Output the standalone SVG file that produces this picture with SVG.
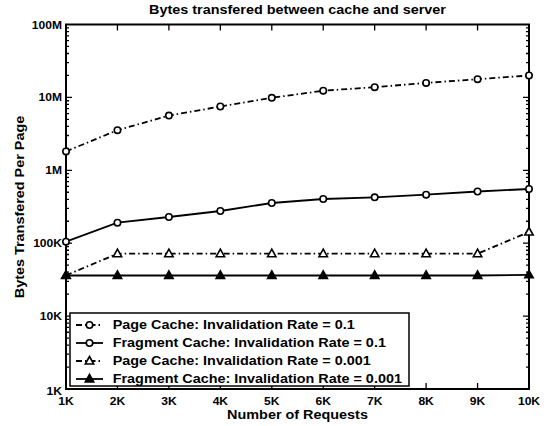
<svg xmlns="http://www.w3.org/2000/svg" xmlns:xlink="http://www.w3.org/1999/xlink" width="548" height="426" viewBox="0 0 548 426">
<style>
text{font-family:"Liberation Sans",Arial,Helvetica,sans-serif;font-weight:bold;fill:#000}
.lab{font-size:12px}
.tk{font-size:10.5px}
.ax{fill:none;stroke:#000;stroke-width:2}
.tick{fill:none;stroke:#000;stroke-width:1.3}
.solid{fill:none;stroke:#000;stroke-width:1.8}
.dd{fill:none;stroke:#000;stroke-width:1.8;stroke-dasharray:6 3 1.5 3}
.mo{fill:#fff;stroke:#000;stroke-width:1.6}
.mf{fill:#000;stroke:#000;stroke-width:1.6}
</style>
<defs>
<circle id="circ" r="3.2"/>
<path id="tri" d="M0,-4.5 L4.2,3 L-4.2,3 Z"/>
</defs>
<rect width="548" height="426" fill="#fff"/>
<g id="title"><text class="lab" text-anchor="middle" transform="translate(297.5,14) scale(1.2,1)">Bytes transfered between cache and server</text></g>
<g id="axes">
<rect class="ax" x="66" y="24.5" width="463" height="364.5"/>
<path class="tick" d="M66 97.4h6M66 170.3h6M66 243.2h6M66 316.1h6M529 97.4h-6M529 170.3h-6M529 243.2h-6M529 316.1h-6"/>
<path class="tick" d="M117.44 389v-6M168.89 389v-6M220.33 389v-6M271.78 389v-6M323.22 389v-6M374.67 389v-6M426.11 389v-6M477.56 389v-6M117.44 24.5v6M168.89 24.5v6M220.33 24.5v6M271.78 24.5v6M323.22 24.5v6M374.67 24.5v6M426.11 24.5v6M477.56 24.5v6"/>
<path class="tick" d="M66 367.06h3M66 354.22h3M66 345.11h3M66 338.04h3M66 332.27h3M66 327.39h3M66 323.17h3M66 319.44h3M66 294.16h3M66 281.32h3M66 272.21h3M66 265.14h3M66 259.37h3M66 254.49h3M66 250.27h3M66 246.54h3M66 221.26h3M66 208.42h3M66 199.31h3M66 192.24h3M66 186.47h3M66 181.59h3M66 177.37h3M66 173.64h3M66 148.36h3M66 135.52h3M66 126.41h3M66 119.34h3M66 113.57h3M66 108.69h3M66 104.47h3M66 100.74h3M66 75.46h3M66 62.62h3M66 53.51h3M66 46.44h3M66 40.67h3M66 35.79h3M66 31.57h3M66 27.84h3"/>
<path class="tick" d="M529 367.06h-3M529 354.22h-3M529 345.11h-3M529 338.04h-3M529 332.27h-3M529 327.39h-3M529 323.17h-3M529 319.44h-3M529 294.16h-3M529 281.32h-3M529 272.21h-3M529 265.14h-3M529 259.37h-3M529 254.49h-3M529 250.27h-3M529 246.54h-3M529 221.26h-3M529 208.42h-3M529 199.31h-3M529 192.24h-3M529 186.47h-3M529 181.59h-3M529 177.37h-3M529 173.64h-3M529 148.36h-3M529 135.52h-3M529 126.41h-3M529 119.34h-3M529 113.57h-3M529 108.69h-3M529 104.47h-3M529 100.74h-3M529 75.46h-3M529 62.62h-3M529 53.51h-3M529 46.44h-3M529 40.67h-3M529 35.79h-3M529 31.57h-3M529 27.84h-3"/>
</g>
<g id="ytick-labels" class="tk" text-anchor="end">
<text transform="translate(62,28.5) scale(1.15,1)">100M</text>
<text transform="translate(62,101.4) scale(1.15,1)">10M</text>
<text transform="translate(62,174.3) scale(1.15,1)">1M</text>
<text transform="translate(62,247.2) scale(1.15,1)">100K</text>
<text transform="translate(62,320.1) scale(1.15,1)">10K</text>
<text transform="translate(62,395) scale(1.15,1)">1K</text>
</g>
<g id="xtick-labels" class="tk" text-anchor="middle">
<text transform="translate(66,405) scale(1.15,1)">1K</text>
<text transform="translate(117.44,405) scale(1.15,1)">2K</text>
<text transform="translate(168.89,405) scale(1.15,1)">3K</text>
<text transform="translate(220.33,405) scale(1.15,1)">4K</text>
<text transform="translate(271.78,405) scale(1.15,1)">5K</text>
<text transform="translate(323.22,405) scale(1.15,1)">6K</text>
<text transform="translate(374.67,405) scale(1.15,1)">7K</text>
<text transform="translate(426.11,405) scale(1.15,1)">8K</text>
<text transform="translate(477.56,405) scale(1.15,1)">9K</text>
<text transform="translate(529,405) scale(1.15,1)">10K</text>
</g>
<g id="axis-titles" class="lab" text-anchor="middle">
<text transform="translate(297.5,419) scale(1.2,1)">Number of Requests</text>
<text transform="translate(24,207) rotate(-90) scale(1.2,1)">Bytes Transfered Per Page</text>
</g>
<g id="series-page-0.1">
<polyline class="dd" points="66,151.4 117.44,130.2 168.89,115.6 220.33,106.5 271.78,97.8 323.22,90.7 374.67,87.2 426.11,82.9 477.56,79.2 529,75.5"/>
<g class="mo">
<use xlink:href="#circ" x="66" y="151.4"/><use xlink:href="#circ" x="117.44" y="130.2"/><use xlink:href="#circ" x="168.89" y="115.6"/><use xlink:href="#circ" x="220.33" y="106.5"/><use xlink:href="#circ" x="271.78" y="97.8"/><use xlink:href="#circ" x="323.22" y="90.7"/><use xlink:href="#circ" x="374.67" y="87.2"/><use xlink:href="#circ" x="426.11" y="82.9"/><use xlink:href="#circ" x="477.56" y="79.2"/><use xlink:href="#circ" x="529" y="75.5"/>
</g>
</g>
<g id="series-fragment-0.1">
<polyline class="solid" points="66,241.7 117.44,222.7 168.89,217 220.33,211 271.78,203 323.22,199 374.67,197.3 426.11,194.7 477.56,191.5 529,189"/>
<g class="mo">
<use xlink:href="#circ" x="66" y="241.7"/><use xlink:href="#circ" x="117.44" y="222.7"/><use xlink:href="#circ" x="168.89" y="217"/><use xlink:href="#circ" x="220.33" y="211"/><use xlink:href="#circ" x="271.78" y="203"/><use xlink:href="#circ" x="323.22" y="199"/><use xlink:href="#circ" x="374.67" y="197.3"/><use xlink:href="#circ" x="426.11" y="194.7"/><use xlink:href="#circ" x="477.56" y="191.5"/><use xlink:href="#circ" x="529" y="189"/>
</g>
</g>
<g id="series-page-0.001">
<polyline class="dd" points="66,275.3 117.44,253.7 168.89,253.7 220.33,253.7 271.78,253.7 323.22,253.7 374.67,253.7 426.11,253.7 477.56,253.7 529,232"/>
<g class="mo">
<use xlink:href="#tri" x="66" y="275.3"/><use xlink:href="#tri" x="117.44" y="253.7"/><use xlink:href="#tri" x="168.89" y="253.7"/><use xlink:href="#tri" x="220.33" y="253.7"/><use xlink:href="#tri" x="271.78" y="253.7"/><use xlink:href="#tri" x="323.22" y="253.7"/><use xlink:href="#tri" x="374.67" y="253.7"/><use xlink:href="#tri" x="426.11" y="253.7"/><use xlink:href="#tri" x="477.56" y="253.7"/><use xlink:href="#tri" x="529" y="232"/>
</g>
</g>
<g id="series-fragment-0.001">
<polyline class="solid" points="66,275.5 117.44,275.5 168.89,275.5 220.33,275.5 271.78,275.5 323.22,275.5 374.67,275.5 426.11,275.5 477.56,275.5 529,274.8"/>
<g class="mf">
<use xlink:href="#tri" x="66" y="275.5"/><use xlink:href="#tri" x="117.44" y="275.5"/><use xlink:href="#tri" x="168.89" y="275.5"/><use xlink:href="#tri" x="220.33" y="275.5"/><use xlink:href="#tri" x="271.78" y="275.5"/><use xlink:href="#tri" x="323.22" y="275.5"/><use xlink:href="#tri" x="374.67" y="275.5"/><use xlink:href="#tri" x="426.11" y="275.5"/><use xlink:href="#tri" x="477.56" y="275.5"/><use xlink:href="#tri" x="529" y="274.8"/>
</g>
</g>
<g id="legend">
<rect x="70" y="313" width="339" height="73" fill="#fff" stroke="#000" stroke-width="1.5"/>
<line class="dd" x1="76" y1="325" x2="103" y2="325"/>
<use class="mo" xlink:href="#circ" x="89.5" y="325"/>
<line class="solid" x1="76" y1="343" x2="103" y2="343"/>
<use class="mo" xlink:href="#circ" x="89.5" y="343"/>
<line class="dd" x1="76" y1="361" x2="103" y2="361"/>
<use class="mo" xlink:href="#tri" x="89.5" y="361"/>
<line class="solid" x1="76" y1="379" x2="103" y2="379"/>
<use class="mf" xlink:href="#tri" x="89.5" y="379"/>
<g class="lab">
<text transform="translate(112.7,329.3) scale(1.2,1)">Page Cache: Invalidation Rate = 0.1</text>
<text transform="translate(112.7,347.3) scale(1.2,1)">Fragment Cache: Invalidation Rate = 0.1</text>
<text transform="translate(112.7,365.3) scale(1.2,1)">Page Cache: Invalidation Rate = 0.001</text>
<text transform="translate(112.7,383.3) scale(1.2,1)">Fragment Cache: Invalidation Rate = 0.001</text>
</g>
</g>
</svg>
